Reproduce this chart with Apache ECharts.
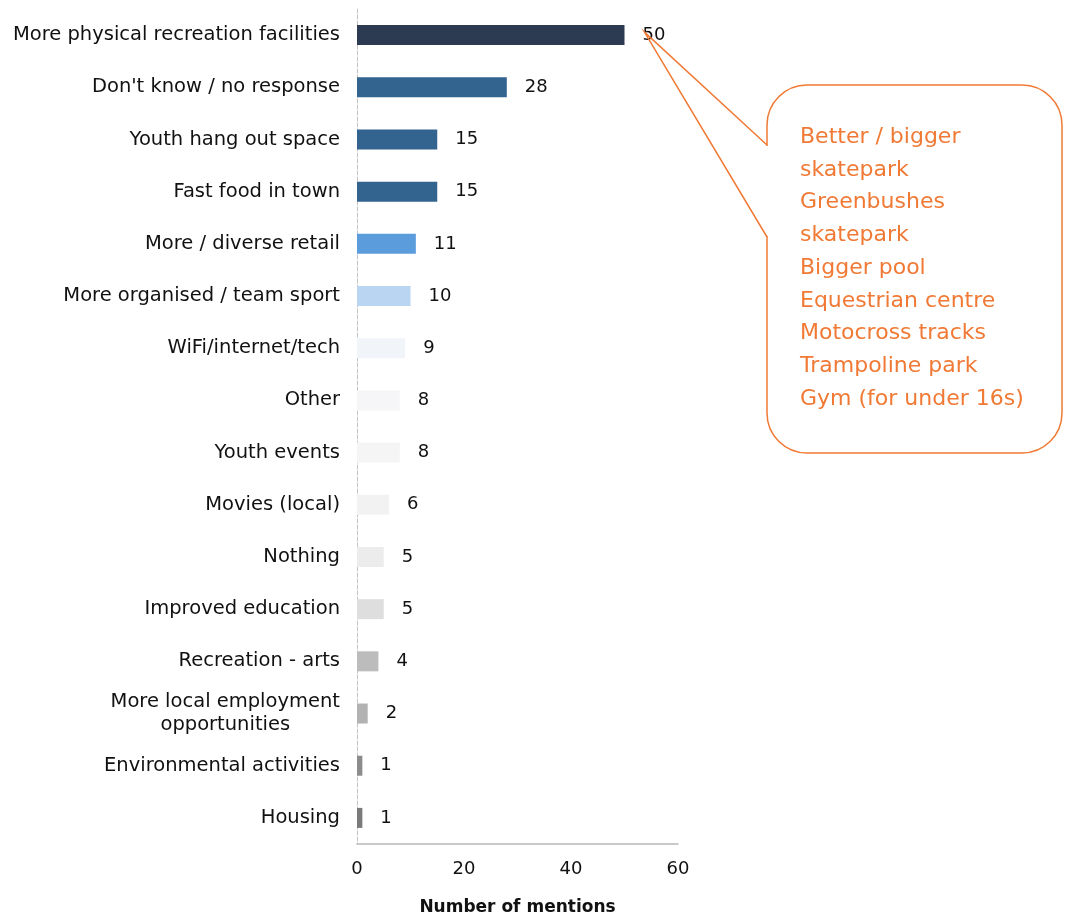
<!DOCTYPE html>
<html>
<head>
<meta charset="utf-8">
<script src="https://cdn.jsdelivr.net/npm/echarts@6/dist/echarts.min.js"></script>
<style>html,body{margin:0;padding:0;background:#fff;}#chart{width:1066px;height:921px;}</style>
</head>
<body>
<div id="chart"></div>
<script>
const categories = [
  "More physical recreation facilities",
  "Don't know / no response",
  "Youth hang out space",
  "Fast food in town",
  "More / diverse retail",
  "More organised / team sport",
  "WiFi/internet/tech",
  "Other",
  "Youth events",
  "Movies (local)",
  "Nothing",
  "Improved education",
  "Recreation - arts",
  "More local employment\nopportunities",
  "Environmental activities",
  "Housing"
];
const mentions = [50, 28, 15, 15, 11, 10, 9, 8, 8, 6, 5, 5, 4, 2, 1, 1];
const barColors = ["#2c3b52", "#33638f", "#33638f", "#33638f", "#5b9ddc", "#b9d5f1",
  "#f1f4f8", "#f6f6f8", "#f5f5f5", "#f2f2f2", "#ececec", "#dedede", "#bcbcbc", "#b2b2b2", "#8c8c8c", "#7a7a7a"];
const xTicks = [0, 20, 40, 60];
const calloutLines = [
  "Better / bigger", "skatepark", "Greenbushes", "skatepark", "Bigger pool",
  "Equestrian centre", "Motocross tracks", "Trampoline park", "Gym (for under 16s)"
];

const FONT = "DejaVu Sans";
const chart = echarts.init(document.getElementById('chart'));
const orange = "#f07a35";

const option = {
  backgroundColor: "#ffffff",
  animation: false,
  grid: { left: 357, right: 388, top: 9, height: 844, containLabel: false },
  xAxis: {
    type: 'value', min: 0, max: 60, interval: 20,
    name: "Number of mentions", nameLocation: 'middle', nameGap: 55,
    nameTextStyle: { fontFamily: FONT, fontWeight: 'bold', fontSize: 17, color: '#111' },
    axisLine: { show: true, lineStyle: { color: '#b8b8b8', width: 1.5 } },
    axisTick: { show: false },
    splitLine: { show: false },
    axisLabel: { fontFamily: FONT, fontSize: 18, color: '#111', margin: 16,
      formatter: v => xTicks.includes(v) ? String(v) : '' }
  },
  yAxis: {
    type: 'category', data: categories, inverse: true,
    axisLine: { show: true, lineStyle: { color: '#c4c4c4', width: 1, type: 'dashed' } },
    axisTick: { show: false },
    axisLabel: {
      fontFamily: FONT, fontSize: 19.5, color: '#111', margin: 17, lineHeight: 23,
      formatter: v => v.split('\n').map(s => '{c|' + s + '}').join('\n'),
      rich: { c: { align: 'center', fontFamily: FONT, fontSize: 19.5, color: '#111', lineHeight: 23 } }
    }
  },
  series: [{
    type: 'bar',
    barWidth: 20,
    data: mentions.map((v, i) => ({ value: v, itemStyle: { color: barColors[i] } })),
    label: { show: true, position: 'right', distance: 18, fontFamily: FONT, fontSize: 18, color: '#111' }
  }]
};
chart.setOption(option);

// callout anchored at the label of the first bar
const anchor = chart.convertToPixel({ gridIndex: 0 }, [mentions[0], 0]);
const tipX = anchor[0] + 20, tipY = anchor[1] - 3;
const L = 767, T = 85, R = 1062, B = 453;

chart.setOption({
  graphic: [
    { type: 'rect', z: 100, shape: { x: L, y: T, width: R - L, height: B - T, r: 40 },
      style: { fill: '#ffffff', stroke: orange, lineWidth: 1.5 } },
    { type: 'line', z: 101, shape: { x1: L, y1: 146, x2: L, y2: 236 },
      style: { stroke: '#ffffff', lineWidth: 4 } },
    { type: 'polyline', z: 102, shape: { points: [[L, 145], [tipX, tipY], [L, 237]] },
      style: { stroke: orange, lineWidth: 1.5, fill: null } },
    { type: 'text', left: 800, top: 121, z: 103,
      style: { text: calloutLines.join('\n'), fill: orange, fontFamily: FONT, fontSize: 22, lineHeight: 32.7 } }
  ]
});
</script>
</body>
</html>
